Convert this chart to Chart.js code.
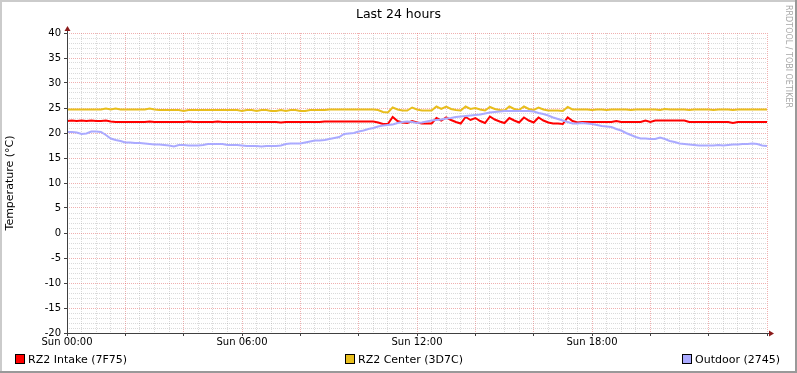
<!DOCTYPE html>
<html>
<head>
<meta charset="utf-8">
<script src="https://cdn.jsdelivr.net/npm/chart.js@4"></script>
<style>
  body { margin: 0; background: #fff; }
  canvas { display: block; }
</style>
</head>
<body>
<canvas id="myChart" width="797" height="373"></canvas>
<script>
// 10 minute samples over the last 24h, 00:00 .. 24:00 (145 points)
const intakeTemps = [
  22.4, 22.5, 22.4, 22.5, 22.4, 22.5, 22.4, 22.4, 22.5, 22.3,
  22.2, 22.2, 22.2, 22.2, 22.2, 22.2, 22.2, 22.3, 22.2, 22.2,
  22.2, 22.2, 22.2, 22.2, 22.2, 22.3, 22.2, 22.2, 22.2, 22.2,
  22.2, 22.3, 22.2, 22.2, 22.2, 22.2, 22.2, 22.2, 22.2, 22.2,
  22.2, 22.2, 22.2, 22.2, 22.1, 22.2, 22.2, 22.2, 22.2, 22.2,
  22.2, 22.2, 22.2, 22.3, 22.3, 22.3, 22.3, 22.3, 22.3, 22.3,
  22.3, 22.3, 22.3, 22.3, 22.1, 21.8, 21.8, 23.2, 22.4, 22.1,
  22.0, 22.4, 22.1, 21.9, 21.9, 21.9, 23.0, 22.5, 23.1, 22.6,
  22.2, 21.9, 23.2, 22.6, 23.0, 22.4, 22.0, 23.3, 22.7, 22.3,
  22.0, 23.0, 22.5, 22.1, 23.1, 22.5, 22.1, 23.1, 22.5, 22.1,
  21.9, 21.9, 21.8, 23.1, 22.4, 22.1, 22.2, 22.2, 22.2, 22.2,
  22.2, 22.2, 22.2, 22.4, 22.2, 22.2, 22.2, 22.2, 22.2, 22.5,
  22.2, 22.5, 22.5, 22.5, 22.5, 22.5, 22.5, 22.5, 22.2, 22.2,
  22.2, 22.2, 22.2, 22.2, 22.2, 22.2, 22.2, 22.0, 22.2, 22.2,
  22.2, 22.2, 22.2, 22.2, 22.2
];
const centerTemps = [
  24.7, 24.7, 24.7, 24.7, 24.7, 24.7, 24.7, 24.7, 24.9, 24.7,
  24.9, 24.7, 24.7, 24.7, 24.7, 24.7, 24.7, 24.9, 24.7, 24.6,
  24.6, 24.6, 24.6, 24.6, 24.4, 24.6, 24.6, 24.6, 24.6, 24.6,
  24.6, 24.6, 24.6, 24.6, 24.6, 24.6, 24.4, 24.6, 24.6, 24.4,
  24.6, 24.6, 24.4, 24.4, 24.6, 24.4, 24.6, 24.6, 24.4, 24.4,
  24.6, 24.6, 24.6, 24.6, 24.7, 24.7, 24.7, 24.7, 24.7, 24.7,
  24.7, 24.7, 24.7, 24.7, 24.6, 24.2, 24.1, 25.1, 24.7, 24.5,
  24.5, 25.1, 24.7, 24.5, 24.5, 24.5, 25.3, 24.8, 25.3, 24.8,
  24.6, 24.5, 25.3, 24.8, 25.0, 24.7, 24.5, 25.2, 24.8, 24.6,
  24.5, 25.3, 24.8, 24.6, 25.3, 24.8, 24.6, 25.1, 24.7, 24.5,
  24.5, 24.5, 24.4, 25.2, 24.7, 24.7, 24.7, 24.7, 24.6, 24.7,
  24.7, 24.6, 24.7, 24.7, 24.7, 24.7, 24.6, 24.7, 24.7, 24.7,
  24.7, 24.7, 24.6, 24.8, 24.7, 24.7, 24.7, 24.7, 24.6, 24.7,
  24.7, 24.7, 24.7, 24.6, 24.7, 24.7, 24.7, 24.6, 24.7, 24.7,
  24.7, 24.7, 24.7, 24.7, 24.7
];
const outdoorTemps = [
  20.2, 20.2, 20.1, 19.8, 19.9, 20.3, 20.3, 20.2, 19.6, 18.9,
  18.6, 18.4, 18.1, 18.1, 18.0, 18.0, 17.9, 17.8, 17.7, 17.7,
  17.6, 17.5, 17.3, 17.6, 17.6, 17.5, 17.5, 17.5, 17.6, 17.8,
  17.8, 17.8, 17.8, 17.6, 17.6, 17.6, 17.5, 17.4, 17.4, 17.4,
  17.3, 17.4, 17.4, 17.4, 17.5, 17.8, 17.9, 17.9, 17.9, 18.1,
  18.3, 18.5, 18.5, 18.6, 18.8, 19.0, 19.2, 19.8, 19.9, 20.0,
  20.3, 20.5, 20.8, 21.0, 21.3, 21.5, 21.6, 21.7, 22.0, 22.2,
  22.3, 22.2, 22.0, 22.1, 22.3, 22.5, 22.6, 22.7, 22.9, 23.0,
  23.2, 23.3, 23.4, 23.5, 23.6, 23.7, 23.9, 24.1, 24.2, 24.3,
  24.4, 24.4, 24.4, 24.4, 24.4, 24.4, 24.3, 24.0, 23.8, 23.5,
  23.1, 22.8, 22.5, 22.2, 21.9, 21.9, 22.0, 21.9, 21.8, 21.6,
  21.4, 21.3, 21.2, 20.8, 20.5, 20.0, 19.6, 19.2, 18.9, 18.9,
  18.8, 18.8, 19.1, 18.8, 18.4, 18.2, 17.9, 17.8, 17.7, 17.6,
  17.5, 17.5, 17.5, 17.5, 17.6, 17.5, 17.6, 17.7, 17.7, 17.8,
  17.8, 17.9, 17.8, 17.5, 17.4
];
const seriesNames = ['RZ2 Intake (7F75)', 'RZ2 Center (3D7C)', 'Outdoor (2745)'];
const seriesColors = ['#FF0000', '#E8BE1D', '#AAAAFF'];
const timeLabels = { 0: 'Sun 00:00', 360: 'Sun 06:00', 720: 'Sun 12:00', 1080: 'Sun 18:00' };
const chartTitle = 'Last 24 hours';
const yTitle = 'Temperature (°C)';
const watermark = 'RRDTOOL / TOBI OETIKER';

const sampleMinutes = [];
for (let i = 0; i < intakeTemps.length; i++) sampleMinutes.push(i * 10);

const FONT = 'DejaVu Sans';
Chart.defaults.font.family = FONT;
Chart.defaults.color = '#000';

const minorGrid = 'rgba(140, 140, 140, 0.32)';
const majorGrid = 'rgba(222, 79, 79, 0.45)';

// frame, axes with arrows, title, watermark and legend (rrdtool look)
const rrdDecor = {
  id: 'rrdDecor',
  beforeDraw(chart) {
    const ctx = chart.ctx;
    const w = chart.width, h = chart.height;
    ctx.save();
    ctx.fillStyle = '#fff';
    ctx.fillRect(0, 0, w, h);
    ctx.fillStyle = '#CBCBCB';
    ctx.fillRect(0, 0, w, 2);
    ctx.fillRect(0, 0, 2, h);
    ctx.fillStyle = '#999999';
    ctx.fillRect(0, h - 2, w, 2);
    ctx.fillRect(w - 2, 0, 2, h);
    ctx.restore();
  },
  afterDraw(chart) {
    const ctx = chart.ctx;
    const a = chart.chartArea;
    ctx.save();

    // axes
    ctx.strokeStyle = '#404040';
    ctx.lineWidth = 1;
    ctx.beginPath();
    ctx.moveTo(a.left + 0.5, a.bottom + 3);
    ctx.lineTo(a.left + 0.5, a.top - 4);
    ctx.moveTo(a.left - 3, a.bottom + 0.5);
    ctx.lineTo(a.right + 4, a.bottom + 0.5);
    ctx.stroke();

    ctx.fillStyle = '#8B1A1A';
    ctx.beginPath();
    ctx.moveTo(a.left + 0.5, a.top - 7);
    ctx.lineTo(a.left - 2.5, a.top - 2);
    ctx.lineTo(a.left + 3.5, a.top - 2);
    ctx.closePath();
    ctx.fill();
    ctx.beginPath();
    ctx.moveTo(a.right + 7, a.bottom + 0.5);
    ctx.lineTo(a.right + 2, a.bottom - 2.5);
    ctx.lineTo(a.right + 2, a.bottom + 3.5);
    ctx.closePath();
    ctx.fill();

    // title
    ctx.fillStyle = '#000';
    ctx.font = '12.5px "' + FONT + '"';
    ctx.textAlign = 'center';
    ctx.textBaseline = 'alphabetic';
    ctx.fillText(chartTitle, chart.width / 2, 18);

    // watermark
    ctx.save();
    ctx.translate(chart.width - 9, 5);
    ctx.rotate(Math.PI / 2);
    ctx.font = '8px "' + FONT + '"';
    ctx.fillStyle = '#A8A8A8';
    ctx.textAlign = 'left';
    ctx.textBaseline = 'middle';
    ctx.fillText(watermark, 0, 0);
    ctx.restore();

    // legend
    const legendX = [15, 345, 682];
    ctx.font = '11px "' + FONT + '"';
    ctx.textAlign = 'left';
    ctx.textBaseline = 'alphabetic';
    chart.data.datasets.forEach((ds, i) => {
      const x = legendX[i];
      ctx.fillStyle = ds.borderColor;
      ctx.fillRect(x, 354, 9, 9);
      ctx.strokeStyle = '#000';
      ctx.strokeRect(x + 0.5, 354.5, 9, 9);
      ctx.fillStyle = '#000';
      ctx.fillText(ds.label, x + 13, 363);
    });

    ctx.restore();
  }
};

const ctx1 = document.getElementById('myChart').getContext('2d');
new Chart(ctx1, {
  type: 'line',
  data: {
    labels: sampleMinutes,
    datasets: [
      { label: seriesNames[0], data: intakeTemps, borderColor: seriesColors[0], order: 3 },
      { label: seriesNames[1], data: centerTemps, borderColor: seriesColors[1], order: 2 },
      { label: seriesNames[2], data: outdoorTemps, borderColor: seriesColors[2], order: 1 }
    ].map(ds => Object.assign(ds, {
      borderWidth: 2,
      pointRadius: 0,
      fill: false,
      tension: 0
    }))
  },
  options: {
    responsive: false,
    animation: false,
    layout: { padding: { left: 0, right: 30, top: 33, bottom: 0 } },
    plugins: {
      legend: { display: false },
      title: { display: false },
      tooltip: { enabled: false }
    },
    scales: {
      x: {
        type: 'linear',
        position: 'bottom',
        min: 0,
        max: 1440,
        afterFit: s => { s.height = 40; },
        ticks: {
          stepSize: 120,
          autoSkip: false,
          maxRotation: 0,
          padding: 0,
          font: { size: 10 },
          color: '#000',
          callback: v => timeLabels[v] || ''
        },
        grid: {
          color: majorGrid,
          lineWidth: 1,
          drawTicks: true,
          tickLength: 3,
          tickColor: '#404040',
          tickBorderDash: []
        },
        border: { display: false, dash: [1, 1] }
      },
      xMinor: {
        type: 'linear',
        position: 'bottom',
        min: 0,
        max: 1440,
        z: -1,
        afterFit: s => { s.height = 0; },
        ticks: { stepSize: 30, display: false, autoSkip: false, maxTicksLimit: 1000 },
        grid: {
          color: c => (c.tick && c.tick.value % 120 === 0) ? 'rgba(0,0,0,0)' : minorGrid,
          drawTicks: false
        },
        border: { display: false, dash: [1, 1] }
      },
      y: {
        type: 'linear',
        position: 'left',
        min: -20,
        max: 40,
        afterFit: s => { s.width = 67; },
        ticks: {
          stepSize: 5,
          padding: 3,
          font: { size: 10 },
          color: '#000'
        },
        title: {
          display: true,
          text: yTitle,
          font: { size: 11 },
          color: '#000',
          padding: { top: 4, bottom: 0 }
        },
        grid: {
          color: majorGrid,
          lineWidth: 1,
          drawTicks: true,
          tickLength: 3,
          tickColor: '#404040',
          tickBorderDash: []
        },
        border: { display: false, dash: [1, 1] }
      },
      yMinor: {
        type: 'linear',
        position: 'left',
        min: -20,
        max: 40,
        z: -1,
        afterFit: s => { s.width = 0; },
        ticks: { stepSize: 1, display: false, maxTicksLimit: 1000 },
        grid: {
          color: c => (c.tick && c.tick.value % 5 === 0) ? 'rgba(0,0,0,0)' : minorGrid,
          drawTicks: false
        },
        border: { display: false, dash: [1, 1] }
      }
    }
  },
  plugins: [rrdDecor]
});
</script>
</body>
</html>
